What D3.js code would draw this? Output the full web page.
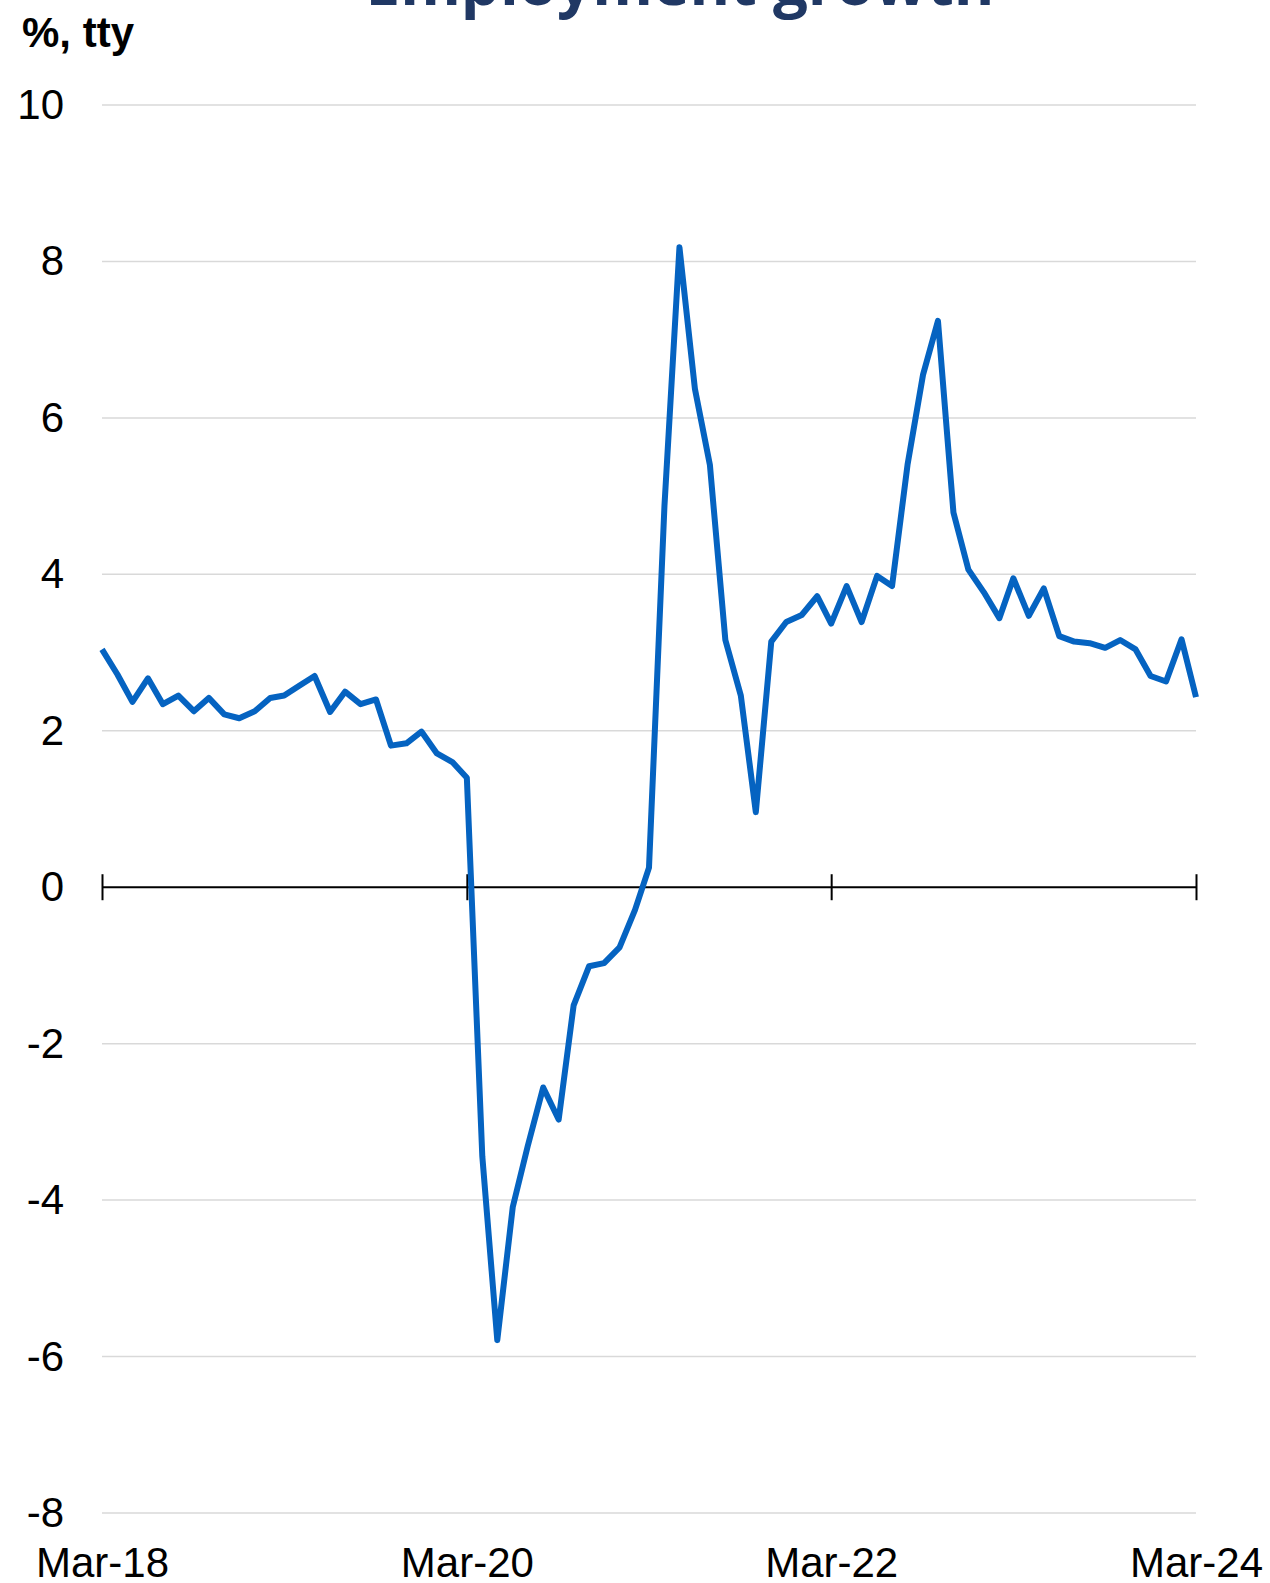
<!DOCTYPE html>
<html>
<head>
<meta charset="utf-8">
<script src="https://cdn.jsdelivr.net/npm/d3@7"></script>
<style>
  html, body { margin: 0; padding: 0; background: #ffffff; }
  svg { display: block; }
</style>
</head>
<body>
<svg id="chart" width="1270" height="1583"></svg>
<script>
// ---- data ----
const chartTitle = "Employment growth";
const unitLabel = "%, tty";
const startMonth = "2018-03";
const endMonth = "2024-03";
const employmentGrowth = [
  3.04, 2.72, 2.37, 2.67, 2.34, 2.45, 2.25, 2.42, 2.21, 2.16,
  2.25, 2.42, 2.45, 2.58, 2.70, 2.24, 2.50, 2.34, 2.40, 1.81,
  1.84, 1.99, 1.71, 1.60, 1.40, -3.44, -5.79, -4.09, -3.31, -2.56,
  -2.97, -1.51, -1.01, -0.97, -0.77, -0.29, 0.25, 4.88, 8.18, 6.37,
  5.40, 3.16, 2.45, 0.96, 3.14, 3.39, 3.48, 3.72, 3.37, 3.85,
  3.39, 3.98, 3.85, 5.40, 6.55, 7.24, 4.79, 4.06, 3.77, 3.44,
  3.95, 3.47, 3.82, 3.21, 3.14, 3.12, 3.06, 3.16, 3.04, 2.70,
  2.63, 3.17, 2.43
];
const yTicks = [-8, -6, -4, -2, 0, 2, 4, 6, 8, 10];
const xTickMonths = ["2018-03", "2020-03", "2022-03", "2024-03"];
const xTickLabels = ["Mar-18", "Mar-20", "Mar-22", "Mar-24"];

(function () {
  const parse = d3.timeParse("%Y-%m");
  const months = d3.timeMonth.range(parse(startMonth), d3.timeMonth.offset(parse(endMonth), 1));
  const series = months.map((d, i) => ({ date: d, value: employmentGrowth[i] }));

  const svg = d3.select("#chart");
  const mLeft = 102, mRight = 1196, mTop = 105, mBottom = 1513;
  const font = "'Liberation Sans', Arial, sans-serif";

  const x = d3.scaleTime().domain([parse(startMonth), parse(endMonth)]).range([mLeft, mRight]);
  const y = d3.scaleLinear().domain([-8, 10]).range([mBottom, mTop]);

  // gridlines
  svg.append("g")
    .selectAll("line")
    .data(yTicks.filter(d => d !== 0))
    .join("line")
    .attr("x1", mLeft).attr("x2", mRight)
    .attr("y1", d => y(d)).attr("y2", d => y(d))
    .attr("stroke", "#d9d9d9")
    .attr("stroke-width", 1.5);

  // y labels
  const yAxis = svg.append("g")
    .attr("transform", `translate(${mLeft},0)`)
    .call(d3.axisLeft(y).tickValues(yTicks).tickSize(0).tickPadding(38).tickFormat(d => String(d)));
  yAxis.select(".domain").remove();
  yAxis.selectAll("text")
    .attr("font-family", font)
    .attr("font-size", 42)
    .attr("fill", "#000");

  // zero axis with ticks
  const zeroAxis = svg.append("g")
    .attr("transform", `translate(0,${y(0)})`)
    .call(d3.axisBottom(x).tickValues(xTickMonths.map(parse)).tickSize(12).tickFormat(""));
  zeroAxis.select(".domain")
    .attr("d", `M${mLeft},0H${mRight}`)
    .attr("stroke", "#000")
    .attr("stroke-width", 2);
  zeroAxis.selectAll(".tick line")
    .attr("y1", -13).attr("y2", 13)
    .attr("stroke", "#000")
    .attr("stroke-width", 2);

  // x labels
  const xAxis = svg.append("g")
    .attr("transform", `translate(0,${mBottom})`)
    .call(d3.axisBottom(x).tickValues(xTickMonths.map(parse)).tickSize(0).tickPadding(34)
      .tickFormat((d, i) => xTickLabels[i]));
  xAxis.select(".domain").remove();
  xAxis.selectAll("text")
    .attr("font-family", font)
    .attr("font-size", 42)
    .attr("fill", "#000");

  // line
  const line = d3.line().x(d => x(d.date)).y(d => y(d.value));
  svg.append("path")
    .datum(series)
    .attr("d", line)
    .attr("fill", "none")
    .attr("stroke", "#0563c1")
    .attr("stroke-width", 6)
    .attr("stroke-linejoin", "round")
    .attr("stroke-linecap", "butt");

  // unit label
  svg.append("text")
    .attr("x", 22).attr("y", 47)
    .attr("font-family", font)
    .attr("font-weight", "bold")
    .attr("font-size", 42)
    .attr("fill", "#000")
    .text(unitLabel);

  // title (partially cut at top)
  const title = svg.append("text")
    .attr("x", 680).attr("y", 5)
    .attr("text-anchor", "middle")
    .attr("font-family", "'Open Sans', sans-serif")
    .attr("font-weight", "bold")
    .attr("font-size", 60)
    .attr("fill", "#203864")
    .text(chartTitle);
  const w = title.node().getComputedTextLength();
  title.attr("font-size", 60 * 629 / w);
})();
</script>
</body>
</html>
